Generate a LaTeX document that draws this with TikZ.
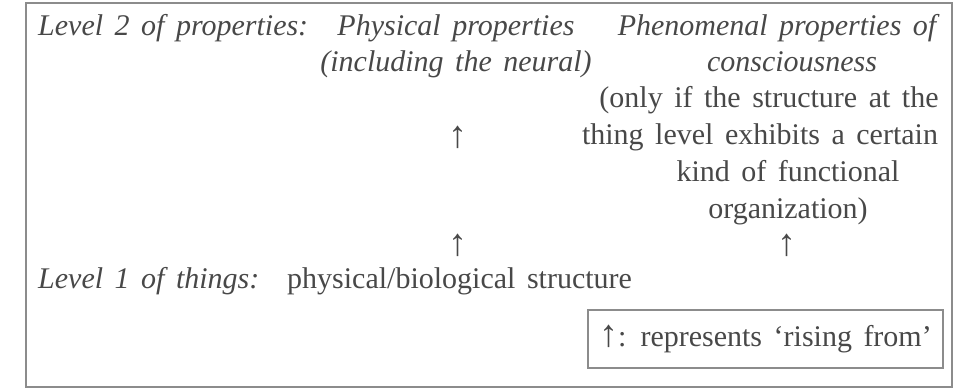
\documentclass[tikz,border=0pt]{standalone}
\usepackage{fontspec}
\setmainfont{Liberation Serif}
\definecolor{ink}{RGB}{72,72,72}
\definecolor{frameline}{RGB}{140,140,140}
\newcommand{\bodyfont}{\fontsize{30}{36}\selectfont\spaceskip=11.5pt\relax}
\newcommand{\uparr}{{\fontsize{38}{36}\selectfont ↑}}
\begin{document}
\begin{tikzpicture}[x=1pt,y=-1pt,
  txt/.style={inner sep=0pt, text=ink, font=\bodyfont},
  itx/.style={inner sep=0pt, text=ink, font=\bodyfont\itshape},
  legendbox/.style={draw=frameline, line width=1.2pt, inner sep=0pt, text=ink,
    font=\bodyfont, minimum width=355pt, minimum height=58pt},
  outerframe/.style={draw=frameline, line width=1.6pt}]
\useasboundingbox (0,0) rectangle (957,390);
\draw[outerframe] (26,3) rectangle (952,387);
% level 2 row
\node[itx, anchor=base west] (lvltwo) at (38,36) {Level 2 of properties:};
\node[itx, anchor=base] (physA) at (456,36) {Physical properties};
\node[itx, anchor=base] (physB) at (456,72) {(including the neural)};
\node[itx, anchor=base] (phenA) at (777,36) {Phenomenal properties of};
\node[itx, anchor=base] (phenB) at (792,72) {consciousness};
% condition
\node[txt, anchor=base] (condA) at (769,108) {(only if the structure at the};
\node[txt, anchor=base] (condB) at (760,145) {thing level exhibits a certain};
\node[txt, anchor=base] (condC) at (788,182) {kind of functional};
\node[txt, anchor=base] (condD) at (788,218) {organization)};
% arrows
\node[txt, anchor=base] (upA) at (458,148) {\uparr};
\node[txt, anchor=base] (upB) at (458,255) {\uparr};
\node[txt, anchor=base] (upC) at (787,255) {\uparr};
% level 1 row
\node[itx, anchor=base west] (lvlone) at (38,288) {Level 1 of things:};
\node[txt, anchor=base west] (struct) at (287,288) {physical/biological structure};
% legend
\node[legendbox] (legend) at (765.5,339) {\uparr: represents ‘rising from’};
\end{tikzpicture}
\end{document}
